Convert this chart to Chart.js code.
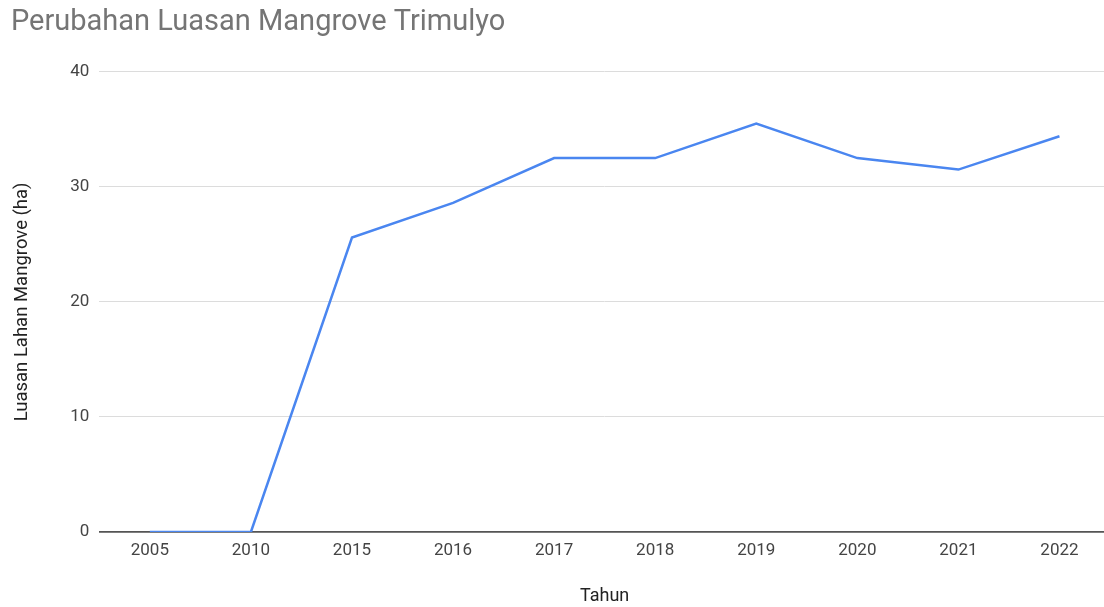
<!DOCTYPE html>
<html lang="id">
<head>
    <meta charset="UTF-8">
    <title>Perubahan Luasan Mangrove Trimulyo</title>
    <script src="https://cdn.jsdelivr.net/npm/chart.js"></script>
    <style>
        html, body {
            margin: 0;
            padding: 0;
            background: #fff;
            overflow: hidden;
        }
        #wrap {
            width: 1110px;
            height: 607px;
        }
    </style>
</head>
<body>
    <div id="wrap"><canvas id="chart"></canvas></div>

    <script>
        // data
        const years = ["2005", "2010", "2015", "2016", "2017", "2018", "2019", "2020", "2021", "2022"];
        const luasan = [0, 0, 25.6, 28.6, 32.5, 32.5, 35.5, 32.5, 31.5, 34.4];
        const yTicks = [0, 10, 20, 30, 40];

        Chart.defaults.font.family = "Roboto, 'Noto Sans', sans-serif";

        new Chart(document.getElementById("chart"), {
            type: "line",
            data: {
                labels: years,
                datasets: [{
                    label: "Luasan",
                    data: luasan,
                    borderColor: "#4a86f0",
                    borderWidth: 2.5,
                    tension: 0,
                    pointRadius: 0,
                    fill: false
                }]
            },
            options: {
                responsive: true,
                maintainAspectRatio: false,
                animation: false,
                layout: {
                    padding: { left: 11, right: 0, top: 0, bottom: 0 }
                },
                plugins: {
                    legend: { display: false },
                    tooltip: { enabled: false },
                    title: {
                        display: true,
                        text: "Perubahan Luasan Mangrove Trimulyo",
                        align: "start",
                        color: "#757575",
                        font: { size: 29, weight: "normal" },
                        padding: { top: 5, bottom: 32 }
                    }
                },
                scales: {
                    x: {
                        offset: true,
                        grid: { display: false, drawTicks: false },
                        border: { display: true, color: "#555", width: 1.5 },
                        ticks: { color: "#444", font: { size: 17 }, padding: 9 },
                        title: {
                            display: true,
                            text: "Tahun",
                            color: "#222",
                            font: { size: 18 },
                            padding: { top: 15, bottom: 0 }
                        }
                    },
                    y: {
                        min: yTicks[0],
                        max: yTicks[yTicks.length - 1],
                        afterBuildTicks: axis => {
                            axis.ticks = yTicks.map(v => ({ value: v }));
                        },
                        grid: {
                            drawTicks: false,
                            color: ctx => ctx.tick && ctx.tick.value === 0 ? "#555" : "#dcdcdc",
                            lineWidth: ctx => ctx.tick && ctx.tick.value === 0 ? 1.5 : 1
                        },
                        border: { display: false },
                        ticks: { color: "#444", font: { size: 17 }, padding: 10 },
                        title: {
                            display: true,
                            text: "Luasan Lahan Mangrove (ha)",
                            color: "#222",
                            font: { size: 18.5 },
                            padding: { top: 0, bottom: 27 }
                        }
                    }
                }
            }
        });
    </script>
</body>
</html>
